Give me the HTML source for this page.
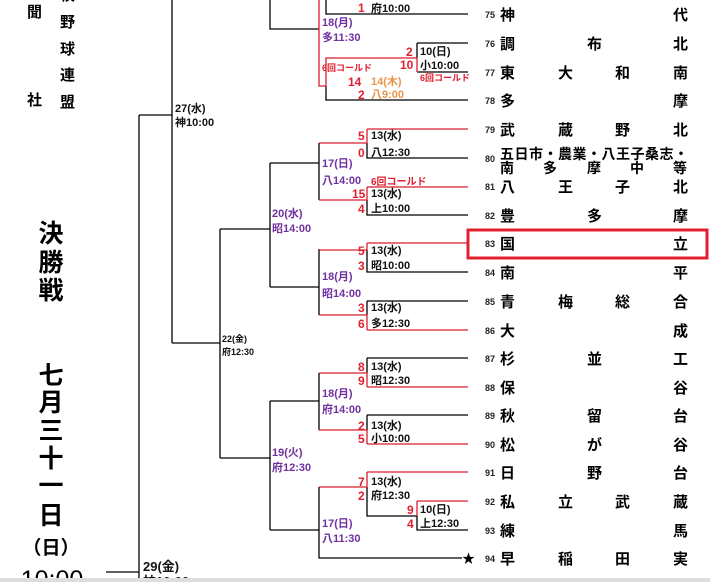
<!DOCTYPE html>
<html><head><meta charset="utf-8"><style>
html,body{margin:0;padding:0;background:#fff;}
svg{display:block;}
text{font-family:"Liberation Sans","Noto Sans CJK JP",sans-serif;font-weight:bold;}
.b{fill:#111;font-size:11px;}
.p{fill:#7030a0;font-size:11px;}
.o{fill:#e8954a;font-size:11px;}
.r{fill:#e02030;font-size:12px;}
.rs{fill:#e02030;font-size:9px;}
.n{fill:#222;font-size:9px;font-weight:normal;}
.t{fill:#000;font-size:15px;}
.big{fill:#000;font-size:25px;}
</style></head><body>
<svg width="710" height="582" viewBox="0 0 710 582" xmlns="http://www.w3.org/2000/svg">
<g stroke="#000" stroke-width="1.3" fill="none">
<path d="M139,115H172M172,0V343M172,343H220M220,229V458M220,229H270M220,458H270"/>
<path d="M139,115V582M106,572H139"/>
<path d="M270,0V29H319"/>
<path d="M270,163V287M270,163H319M270,287H319"/>
<path d="M270,401V530M270,401H319M270,530H319"/>
<path d="M319,143V200M319,249V315M319,373V430M319,487V558H462"/>
<path d="M326,0V14H468M326,86V100H468M417,43H468M417,43V58M417,72H468"/>
<path d="M367,143V158H468M367,200V215H468M367,250V272H468M367,301V315M367,301H468M367,358V373M367,358H468M367,415V430M367,415H468M367,487V516H417M417,516V530H468"/>
</g>
<g stroke="#d81e2c" stroke-width="1.3" fill="none">
<path d="M319,0V86H326V58H417V72"/>
<path d="M367,129H468M367,129V143H319"/>
<path d="M367,187H468M367,187V200H319"/>
<path d="M367,243H468M367,243V250H319"/>
<path d="M367,330H468M367,330V315H319"/>
<path d="M367,387H468M367,387V373H319"/>
<path d="M367,444H468M367,444V430H319"/>
<path d="M367,472H468M367,472V487H319"/>
<path d="M417,501H468M417,501V516"/>
</g>
<text x="462" y="563" style="font-size:13px;fill:#000">★</text>
<rect x="468" y="230" width="239" height="28" fill="none" stroke="#e02030" stroke-width="3"/>

<!-- left titles -->
<text x="27" y="17" style="font-size:15px">聞</text>
<text x="27" y="105" style="font-size:15px">社</text>
<text x="60" y="0" style="font-size:15px">校</text>
<text x="60" y="27" style="font-size:15px">野</text>
<text x="60" y="54" style="font-size:15px">球</text>
<text x="60" y="80" style="font-size:15px">連</text>
<text x="60" y="107" style="font-size:15px">盟</text>
<g class="big" text-anchor="middle">
<text x="51" y="242">決</text><text x="51" y="271">勝</text><text x="51" y="299">戦</text>
<text x="51" y="384">七</text><text x="51" y="411">月</text><text x="51" y="439">三</text>
<text x="51" y="467">十</text><text x="51" y="494">一</text><text x="51" y="524">日</text>
</g>
<text x="51" y="554" text-anchor="middle" style="font-size:19px">（日）</text>
<text x="52" y="588" text-anchor="middle" style="font-size:25px;font-weight:normal">10:00</text>

<!-- round labels -->
<text x="175" y="112" class="b" style="font-size:11px">27(水)</text>
<text x="175" y="126" class="b">神10:00</text>
<text x="222" y="342" class="b" style="font-size:9px">22(金)</text>
<text x="222" y="355" class="b" style="font-size:9px">府12:30</text>
<text x="143" y="571" class="b" style="font-size:13px">29(金)</text>
<text x="143" y="586" class="b" style="font-size:13px">神10:00</text>

<text x="322" y="26" class="p">18(月)</text><text x="322" y="41" class="p">多11:30</text>
<text x="272" y="217" class="p">20(水)</text><text x="272" y="232" class="p">昭14:00</text>
<text x="322" y="167" class="p">17(日)</text><text x="322" y="184" class="p">八14:00</text>
<text x="322" y="280" class="p">18(月)</text><text x="322" y="297" class="p">昭14:00</text>
<text x="322" y="397" class="p">18(月)</text><text x="322" y="413" class="p">府14:00</text>
<text x="272" y="456" class="p">19(火)</text><text x="272" y="471" class="p">府12:30</text>
<text x="322" y="527" class="p">17(日)</text><text x="322" y="542" class="p">八11:30</text>

<!-- match labels -->
<text x="358" y="12" class="r">1</text><text x="371" y="12" class="b">府10:00</text>
<text x="406" y="56" class="r">2</text><text x="400" y="69" class="r">10</text>
<text x="420" y="55" class="b">10(日)</text><text x="420" y="69" class="b">小10:00</text>
<text x="420" y="81" class="rs">6回コールド</text>
<text x="322" y="71" class="rs">6回コールド</text>
<text x="348" y="86" class="r">14</text><text x="371" y="85" class="o">14(木)</text>
<text x="358" y="99" class="r">2</text><text x="371" y="98" class="o">八9:00</text>

<text x="358" y="140" class="r">5</text><text x="371" y="139" class="b">13(水)</text>
<text x="358" y="157" class="r">0</text><text x="371" y="156" class="b">八12:30</text>
<text x="371" y="185" class="rs" style="font-size:10px">6回コールド</text>
<text x="352" y="198" class="r">15</text><text x="371" y="197" class="b">13(水)</text>
<text x="358" y="213" class="r">4</text><text x="371" y="212" class="b">上10:00</text>

<text x="358" y="255" class="r">5</text><text x="371" y="254" class="b">13(水)</text>
<text x="358" y="270" class="r">3</text><text x="371" y="269" class="b">昭10:00</text>
<text x="358" y="312" class="r">3</text><text x="371" y="311" class="b">13(水)</text>
<text x="358" y="328" class="r">6</text><text x="371" y="327" class="b">多12:30</text>

<text x="358" y="371" class="r">8</text><text x="371" y="370" class="b">13(水)</text>
<text x="358" y="385" class="r">9</text><text x="371" y="384" class="b">昭12:30</text>
<text x="358" y="430" class="r">2</text><text x="371" y="429" class="b">13(水)</text>
<text x="358" y="443" class="r">5</text><text x="371" y="442" class="b">小10:00</text>

<text x="358" y="486" class="r">7</text><text x="371" y="485" class="b">13(水)</text>
<text x="358" y="500" class="r">2</text><text x="371" y="499" class="b">府12:30</text>
<text x="407" y="514" class="r">9</text><text x="420" y="513" class="b">10(日)</text>
<text x="407" y="528" class="r">4</text><text x="420" y="527" class="b">上12:30</text>

<!-- team list -->
<g class="n">
<text x="485" y="18">75</text><text x="485" y="47">76</text><text x="485" y="76">77</text><text x="485" y="104">78</text>
<text x="485" y="133">79</text><text x="485" y="162">80</text><text x="485" y="190">81</text><text x="485" y="219">82</text>
<text x="485" y="247">83</text><text x="485" y="276">84</text><text x="485" y="305">85</text><text x="485" y="334">86</text>
<text x="485" y="362">87</text><text x="485" y="391">88</text><text x="485" y="419">89</text><text x="485" y="448">90</text>
<text x="485" y="476">91</text><text x="485" y="505">92</text><text x="485" y="534">93</text><text x="485" y="562">94</text>
</g>
<g class="t">
<text x="500" y="20">神</text><text x="673" y="20">代</text>
<text x="500" y="49">調</text><text x="587" y="49">布</text><text x="673" y="49">北</text>
<text x="500" y="78">東</text><text x="558" y="78">大</text><text x="615" y="78">和</text><text x="673" y="78">南</text>
<text x="500" y="106">多</text><text x="673" y="106">摩</text>
<text x="500" y="135">武</text><text x="558" y="135">蔵</text><text x="615" y="135">野</text><text x="673" y="135">北</text>
<text x="500" y="159" style="font-size:14px;letter-spacing:0.5px">五日市・農業・八王子桑志・</text>
<text x="500" y="173" style="font-size:14px">南</text><text x="543" y="173" style="font-size:14px">多</text><text x="587" y="173" style="font-size:14px">摩</text><text x="630" y="173" style="font-size:14px">中</text><text x="673" y="173" style="font-size:14px">等</text>
<text x="500" y="192">八</text><text x="558" y="192">王</text><text x="615" y="192">子</text><text x="673" y="192">北</text>
<text x="500" y="221">豊</text><text x="587" y="221">多</text><text x="673" y="221">摩</text>
<text x="500" y="249">国</text><text x="673" y="249">立</text>
<text x="500" y="278">南</text><text x="673" y="278">平</text>
<text x="500" y="307">青</text><text x="558" y="307">梅</text><text x="615" y="307">総</text><text x="673" y="307">合</text>
<text x="500" y="336">大</text><text x="673" y="336">成</text>
<text x="500" y="364">杉</text><text x="587" y="364">並</text><text x="673" y="364">工</text>
<text x="500" y="393">保</text><text x="673" y="393">谷</text>
<text x="500" y="421">秋</text><text x="587" y="421">留</text><text x="673" y="421">台</text>
<text x="500" y="450">松</text><text x="587" y="450">が</text><text x="673" y="450">谷</text>
<text x="500" y="478">日</text><text x="587" y="478">野</text><text x="673" y="478">台</text>
<text x="500" y="507">私</text><text x="558" y="507">立</text><text x="615" y="507">武</text><text x="673" y="507">蔵</text>
<text x="500" y="536">練</text><text x="673" y="536">馬</text>
<text x="500" y="564">早</text><text x="558" y="564">稲</text><text x="615" y="564">田</text><text x="673" y="564">実</text>
</g>
<rect x="0" y="578" width="710" height="4" fill="#ddd"/>
</svg>
</body></html>
